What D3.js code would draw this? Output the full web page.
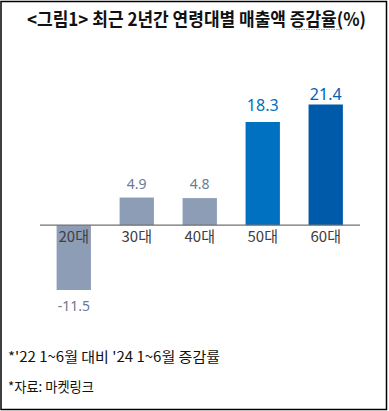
<!DOCTYPE html>
<html>
<head>
<meta charset="utf-8">
<script src="https://cdn.jsdelivr.net/npm/d3@7"></script>
<style>
  body { margin: 0; background: #fff; }
  svg { display: block; }
</style>
</head>
<body>
<div id="chart"></div>
<script>
/// Data

var categories = ["20대", "30대", "40대", "50대", "60대"];
var values = [-11.5, 4.9, 4.8, 18.3, 21.4];
var valueLabels = ["-11.5", "4.9", "4.8", "18.3", "21.4"];
var barColors = ["#8E9DB6", "#8E9DB6", "#8E9DB6", "#0070C0", "#005AAA"];
var labelColors = ["#6A7A99", "#6A7A99", "#6A7A99", "#0070C0", "#0062B4"];
var titleText = "<그림1> 최근 2년간 연령대별 매출액 증감율(%)";
var notes = ["*'22 1~6월 대비 '24 1~6월 증감률", "*자료: 마켓링크"];

var W = 389, H = 411;

var svg = d3.select("#chart").append("svg")
  .attr("width", W)
  .attr("height", H);

// frame
svg.append("rect")
  .attr("x", 1).attr("y", 1.5)
  .attr("width", 385.5).attr("height", 408)
  .attr("fill", "#fff")
  .attr("stroke", "#000")
  .attr("stroke-width", 1.5);

// title
svg.append("text")
  .attr("x", 27).attr("y", 25.5)
  .attr("font-family", "Noto Sans CJK KR")
  .attr("font-weight", 700)
  .attr("font-size", 18)
  .attr("fill", "#111")
  .attr("textLength", 339)
  .attr("lengthAdjust", "spacingAndGlyphs")
  .text(titleText);

// spell check underline under 증감율
svg.append("line")
  .attr("x1", 296).attr("x2", 340)
  .attr("y1", 29.5).attr("y2", 29.5)
  .attr("stroke", "#E8A040")
  .attr("stroke-width", 1)
  .attr("stroke-dasharray", "1.5,1");

/// Scales

var x = d3.scaleBand()
  .domain(categories)
  .range([41.5, 358])
  .paddingInner(0.455)
  .paddingOuter(0.24);

var y = d3.scaleLinear()
  .domain([-11.5, 21.4])
  .range([290, 104.5]);

// bars
svg.selectAll("rect.bar")
  .data(values)
  .enter()
  .append("rect")
  .attr("class", "bar")
  .attr("x", function(d, i){ return x(categories[i]); })
  .attr("width", x.bandwidth())
  .attr("y", function(d){ return y(Math.max(0, d)); })
  .attr("height", function(d){ return Math.abs(y(d) - y(0)); })
  .attr("fill", function(d, i){ return barColors[i]; });

// zero axis
svg.append("line")
  .attr("x1", 40).attr("x2", 360)
  .attr("y1", y(0)).attr("y2", y(0))
  .attr("stroke", "#707070")
  .attr("stroke-width", 1.2);

// category labels
svg.selectAll("text.cat")
  .data(categories)
  .enter()
  .append("text")
  .attr("class", "cat")
  .attr("x", function(d){ return x(d) + x.bandwidth() / 2; })
  .attr("y", y(0) + 17)
  .attr("text-anchor", "middle")
  .attr("font-family", "Noto Sans CJK KR")
  .attr("font-size", 15)
  .attr("fill", "#404040")
  .text(function(d){ return d; });

// value labels
svg.selectAll("text.val")
  .data(values)
  .enter()
  .append("text")
  .attr("class", "val")
  .attr("x", function(d, i){ return x(categories[i]) + x.bandwidth() / 2; })
  .attr("y", function(d, i){
    if (d < 0) return y(d) + 21;
    return y(d) - (i == 3 ? 11 : (i == 4 ? 5 : 9));
  })
  .attr("text-anchor", "middle")
  .attr("font-family", "Noto Sans")
  .attr("font-size", function(d, i){ return i >= 3 ? 16 : 14; })
  .attr("fill", function(d, i){ return labelColors[i]; })
  .text(function(d, i){ return valueLabels[i]; });

// footnotes
svg.append("text")
  .attr("x", 8).attr("y", 362)
  .attr("font-family", "Noto Sans CJK KR")
  .attr("font-size", 14)
  .attr("fill", "#111")
  .attr("textLength", 212)
  .attr("lengthAdjust", "spacingAndGlyphs")
  .text(notes[0]);

svg.append("text")
  .attr("x", 8).attr("y", 392)
  .attr("font-family", "Noto Sans CJK KR")
  .attr("font-size", 14)
  .attr("fill", "#111")
  .attr("textLength", 86)
  .attr("lengthAdjust", "spacingAndGlyphs")
  .text(notes[1]);
</script>
</body>
</html>
